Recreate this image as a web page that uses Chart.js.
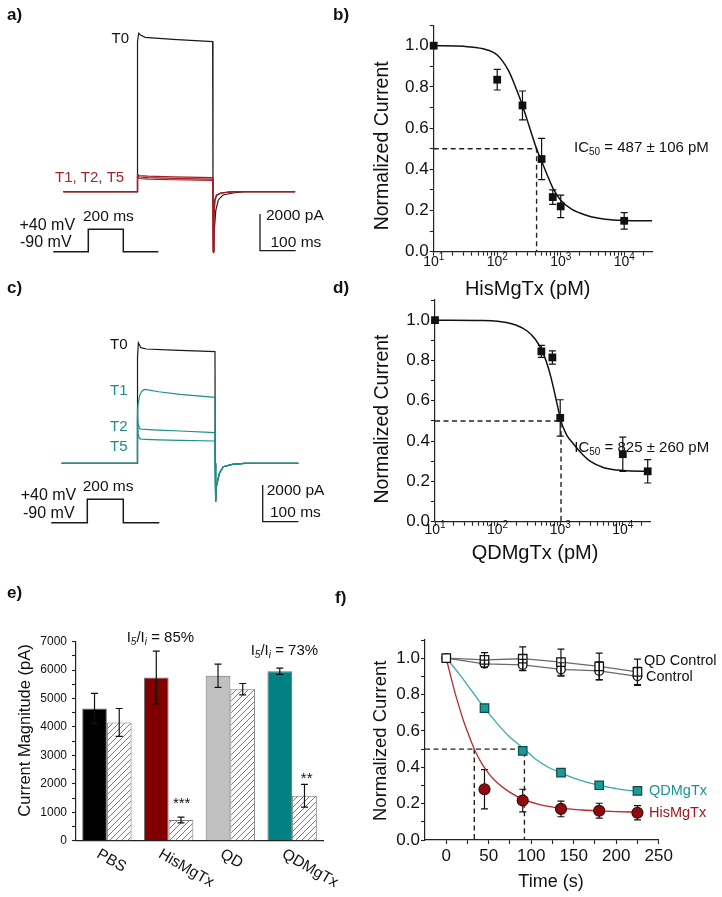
<!DOCTYPE html>
<html>
<head>
<meta charset="utf-8">
<title>MgTx block of Kv1.3 currents</title>
<script src="https://cdn.jsdelivr.net/npm/chart.js@4.4.1/dist/chart.umd.min.js"></script>
<style>
  html, body { margin:0; padding:0; background:#fff; }
  #fig { position:relative; width:722px; height:897px; overflow:hidden; background:#fff; }
  #fig canvas { position:absolute; }
  .pl { position:absolute; font:bold 17px "Liberation Sans", Arial, sans-serif; color:#111; line-height:17px; }
</style>
</head>
<body>
<div id="fig">
  <canvas id="pa" width="361" height="300" style="left:0px;top:0px;width:361px;height:300px"></canvas>
  <canvas id="pb" width="361" height="300" style="left:361px;top:0px;width:361px;height:300px"></canvas>
  <canvas id="pc" width="361" height="300" style="left:0px;top:300px;width:361px;height:300px"></canvas>
  <canvas id="pd" width="361" height="310" style="left:361px;top:280px;width:361px;height:310px"></canvas>
  <canvas id="pe" width="361" height="307" style="left:0px;top:590px;width:361px;height:307px"></canvas>
  <canvas id="pf" width="361" height="307" style="left:361px;top:590px;width:361px;height:307px"></canvas>
  <div class="pl" style="left:7px;top:6px">a)</div>
  <div class="pl" style="left:333px;top:6px">b)</div>
  <div class="pl" style="left:7px;top:279px">c)</div>
  <div class="pl" style="left:333px;top:279px">d)</div>
  <div class="pl" style="left:7px;top:584px">e)</div>
  <div class="pl" style="left:335px;top:589px">f)</div>
</div>
<script>
// ===================== DATA =====================
// Panel a: currents (time ms from pulse onset, current pA), HisMgTx
const aTimeT0 = [-207, 0, 0.6, 4, 10, 22, 100, 211, 212, 213.5, 216, 220, 227, 240, 268, 300, 442];
const aCurT0  = [0, 0, 8200, 8630, 8520, 8415, 8300, 8175, 0, -3350, -2000, -1000, -450, -180, -70, 0, 0];
const aTimeTx = [-207, 0, 0.6, 5, 30, 100, 211, 212, 212.8, 214.5, 217, 222, 235, 270, 442];
const aCurT1  = [0, 0, 950, 880, 850, 810, 770, 0, -3300, -1500, -500, -200, -70, 0, 0];
const aCurT2  = [0, 0, 870, 800, 770, 730, 690, 0, -3250, -1450, -480, -190, -70, 0, 0];
const aCurT5  = [0, 0, 790, 720, 690, 650, 620, 0, -3200, -1400, -460, -180, -60, 0, 0];
// Panel c: currents, QDMgTx
const cTimeT0 = [-212, 0, 0.6, 3, 10, 25, 100, 217.6, 218.2, 219.5, 222, 230, 241, 266, 300, 451];
const cCurT0  = [0, 0, 5800, 6573, 6300, 6229, 6170, 6082, 0, -2093, -1200, -545, -185, -55, 0, 0];
const cTimeTx = [-212, 0, 0.5, 2, 6, 11, 16, 22, 60, 120, 217.6, 218.2, 219.5, 222, 230, 241, 266, 300, 451];
const cCurT1  = [0, 0, 2600, 3200, 3650, 3880, 3990, 4030, 3900, 3760, 3597, 0, -2093, -1200, -545, -185, -55, 0, 0];
const cCurT2  = [0, 0, 3000, 2200, 1900, 1860, 1855, 1850, 1810, 1760, 1668, 0, -2090, -1200, -545, -185, -55, 0, 0];
const cCurT5  = [0, 0, 2500, 1600, 1350, 1315, 1310, 1305, 1280, 1250, 1215, 0, -2085, -1200, -545, -185, -55, 0, 0];
// Voltage protocol (ms, mV) and scale bars
const protoTime = [-200, 0, 0, 200, 200, 400];
const protoVolt = [-90, -90, 40, 40, -90, -90];
const scaleBarPA = 2000, scaleBarMS = 100;

// Panel b: HisMgTx dose response
const bConc = [10, 100, 250, 500, 750, 1000, 10000];
const bCurr = [1.0, 0.835, 0.71, 0.45, 0.265, 0.22, 0.15];
const bErr  = [0, 0.05, 0.07, 0.1, 0.035, 0.055, 0.04];
const bFitConc = [10, 30, 60, 100, 150, 200, 250, 300, 350, 417, 500, 600, 750, 1000, 1500, 2000, 3000, 5000, 10000, 27500];
const bFitCurr = [1.0, 0.997, 0.985, 0.955, 0.88, 0.79, 0.71, 0.635, 0.57, 0.50, 0.44, 0.38, 0.31, 0.25, 0.205, 0.188, 0.17, 0.158, 0.152, 0.15];
const bHalf = 417;
// Panel d: QDMgTx dose response
const dConc = [10, 500, 750, 1000, 10000, 25000];
const dCurr = [1.0, 0.845, 0.815, 0.515, 0.335, 0.25];
const dErr  = [0, 0.03, 0.033, 0.09, 0.085, 0.058];
const dFitConc = [10, 50, 100, 200, 300, 400, 500, 600, 700, 800, 900, 1000, 1100, 1300, 1660, 2000, 3000, 5000, 10000, 27500];
const dFitCurr = [1.0, 0.998, 0.995, 0.975, 0.945, 0.905, 0.855, 0.795, 0.725, 0.65, 0.578, 0.515, 0.472, 0.425, 0.383, 0.352, 0.30, 0.268, 0.254, 0.25];
const dHalf = 1030;
const logTickLabels = [1, 2, 3, 4];

// Panel e: current magnitude
const eGroups = ['PBS', 'HisMgTx', 'QD', 'QDMgTx'];
const eInitial = [4650, 5740, 5800, 5960];
const eInitialErr = [530, 930, 410, 110];
const eFinal = [4160, 730, 5330, 1580];
const eFinalErr = [490, 100, 200, 400];
const eRatios = ['85%', '73%'];
const eSig = ['***', '**'];

// Panel f: time course
const fTime = [0, 45, 90, 135, 180, 225];
const fControl = [1.0, 0.969, 0.963, 0.938, 0.93, 0.90];
const fControlErr = [0, 0.02, 0.03, 0.037, 0.05, 0.05];
const fQDControl = [1.0, 0.991, 0.997, 0.978, 0.955, 0.925];
const fQDControlErr = [0, 0.04, 0.065, 0.072, 0.073, 0.07];
const fToxTime = [45, 90, 135, 180, 225];
const fQDMgTx = [0.725, 0.49, 0.371, 0.301, 0.27];
const fQDMgTxErr = [0.012, 0.015, 0.014, 0.012, 0.012];
const fHisMgTx = [0.279, 0.217, 0.171, 0.161, 0.15];
const fHisMgTxErr = [0.108, 0.062, 0.043, 0.041, 0.039];
const fFitHisTime = [0, 5, 10, 15, 20, 25, 30, 33, 40, 50, 60, 75, 90, 110, 135, 160, 180, 200, 225];
const fFitHis = [1.0, 0.905, 0.815, 0.735, 0.66, 0.595, 0.535, 0.50, 0.435, 0.365, 0.315, 0.262, 0.225, 0.195, 0.175, 0.165, 0.16, 0.156, 0.153];
const fFitQDTime = [0, 15, 30, 45, 60, 75, 92, 105, 120, 135, 150, 165, 180, 200, 225];
const fFitQD = [1.0, 0.915, 0.82, 0.725, 0.64, 0.565, 0.50, 0.445, 0.40, 0.37, 0.34, 0.318, 0.30, 0.283, 0.266];
const fHalf = [33, 92];

// ===================== STYLE / HELPERS =====================
const FONT = '"Liberation Sans", Arial, Helvetica, sans-serif';
Chart.defaults.font.family = FONT;
Chart.defaults.color = '#111';
const RED = '#a3252a', TEAL = '#1b8c8a', INK = '#111';

const pt = (xs, ys) => xs.map((x, i) => ({x: x, y: ys[i]}));
function lin(v1, p1, v2, p2, len) { const k = (v2 - v1) / (p2 - p1); return {min: v1 - p1 * k, max: v1 + (len - p1) * k}; }
function fontStr(s, st) { return (st || '') + ' ' + s + 'px ' + FONT; }
function drawRich(ctx, it) {
  ctx.save();
  ctx.translate(it.x, it.y);
  if (it.rot) ctx.rotate(it.rot * Math.PI / 180);
  ctx.fillStyle = it.color || INK;
  ctx.textBaseline = 'middle';
  ctx.textAlign = 'left';
  const parts = it.parts || [{t: it.t, s: it.s || 15, st: it.st}];
  let w = 0;
  parts.forEach(p => { ctx.font = fontStr(p.s, p.st); w += ctx.measureText(p.t).width; });
  let x = it.align === 'center' ? -w / 2 : (it.align === 'right' ? -w : 0);
  parts.forEach(p => { ctx.font = fontStr(p.s, p.st); ctx.fillText(p.t, x, p.dy || 0); x += ctx.measureText(p.t).width; });
  ctx.restore();
}
function errorBars(chart, top) {
  const ctx = chart.ctx;
  chart.data.datasets.forEach((ds, di) => {
    if (!ds.errors || (!!ds.errTop) !== top) return;
    const meta = chart.getDatasetMeta(di);
    const ys = chart.scales[meta.yAxisID];
    ctx.save();
    ctx.strokeStyle = ds.errColor || INK;
    ctx.lineWidth = ds.errWidth || 1.2;
    meta.data.forEach((el, i) => {
      const e = ds.errors[i]; if (!e) return;
      const raw = ds.data[i]; const v = (typeof raw === 'object') ? raw.y : raw;
      const x = el.x, y1 = ys.getPixelForValue(v + e), y2 = ys.getPixelForValue(v - e), c = ds.errCap || 3.5;
      ctx.beginPath();
      ctx.moveTo(x, y1); ctx.lineTo(x, y2);
      ctx.moveTo(x - c, y1); ctx.lineTo(x + c, y1);
      ctx.moveTo(x - c, y2); ctx.lineTo(x + c, y2);
      ctx.stroke();
    });
    ctx.restore();
  });
}
const DECO = {};
Chart.register({
  id: 'deco',
  beforeDatasetsDraw(chart) { errorBars(chart, false); },
  afterDatasetsDraw(chart) { errorBars(chart, true); },
  afterDraw(chart) {
    const spec = DECO[chart.canvas.id]; if (!spec) return;
    const ctx = chart.ctx;
    if (spec.logLabels) {
      const xs = chart.scales.x;
      logTickLabels.forEach(n => {
        drawRich(ctx, {x: xs.getPixelForValue(Math.pow(10, n)), y: spec.logLabels.y, align: 'center',
          parts: [{t: '10', s: 14}, {t: String(n), s: 10, dy: -5}]});
      });
    }
    if (spec.catLabels) {
      const xs = chart.scales.x;
      eGroups.forEach((g, i) => drawRich(ctx, {t: g, x: xs.getPixelForValue(i) - 9, y: spec.catLabels.y, s: 15.5, rot: 30}));
    }
    (spec.texts || []).forEach(t => drawRich(ctx, t));
  }
});

function hidden(r) { return {type: 'linear', display: false, min: r.min, max: r.max}; }
function baseOpts(L, scales) {
  return {
    responsive: false, animation: false, events: [],
    layout: {autoPadding: false, padding: {left: 0, top: L.top, right: L.W - L.right, bottom: 0}},
    plugins: {legend: {display: false}, tooltip: {enabled: false}},
    scales: scales
  };
}
function axisCommon(size, pad) {
  return {
    grid: {drawOnChartArea: false, drawTicks: true, tickLength: 4, tickWidth: 1.1, tickColor: '#222'},
    border: {display: true, color: '#222', width: 1.2},
    ticks: {autoSkip: false, maxRotation: 0, padding: pad, font: {size: size}, color: INK}
  };
}
function yAxis(L, min, max, vals, fmt, size, pad) {
  const a = axisCommon(size, pad);
  a.ticks.callback = fmt;
  return Object.assign(a, {type: 'linear', position: 'left', min: min, max: max,
    afterFit: s => { s.width = L.left; },
    afterBuildTicks: s => { s.ticks = vals.map(v => ({value: v})); }});
}
function range(a, b, step) { const out = []; for (let v = a; v <= b + 1e-9; v += step) out.push(Math.round(v * 1000) / 1000); return out; }
function logVals(minV, maxV) { const out = []; for (let e = 1; e < 6; e++) for (let m = 1; m < 10; m++) { const v = m * Math.pow(10, e); if (v >= minV && v <= maxV) out.push(v); } return out; }
const fmt01 = v => (Math.round(v * 10) % 2 === 0 && v <= 1.0001) ? v.toFixed(1) : '';

// ===================== PANELS a & c: traces =====================
function tracePanel(id, H, px, T0t, T0i, Txt, Txi, txColor, sbPx) {
  const X = lin(0, px.t0, scaleBarMS, px.t0 + px.msPx * scaleBarMS, 361);
  const Y = lin(0, H - px.base, scaleBarPA, H - px.base + px.paPx * scaleBarPA, H);
  const PX = lin(0, px.pOn, 200, px.pOff, 361);
  const PY = lin(-90, H - px.pLow, 40, H - px.pHigh, H);
  const sbT = (sbPx.x - px.t0) / px.msPx, sbI = (px.base - sbPx.y) / px.paPx;
  const line = (data, color, w, order, xa, ya) => ({data: data, showLine: true, pointRadius: 0, borderColor: color,
    borderWidth: w, tension: 0, order: order, xAxisID: xa || 'x', yAxisID: ya || 'y'});
  const ds = [line(pt(T0t, T0i), '#1a1a1a', 1.2, 9)];
  Txi.forEach((arr, k) => ds.push(line(pt(Txt, arr), txColor, 1.2, 5 - k)));
  ds.push(line(pt(protoTime, protoVolt), '#1a1a1a', 1.5, 0, 'xp', 'yp'));
  ds.push(line([{x: sbT, y: sbI + scaleBarPA}, {x: sbT, y: sbI}, {x: sbT + scaleBarMS, y: sbI}], '#1a1a1a', 1.3, 0));
  new Chart(document.getElementById(id), {
    type: 'scatter', data: {datasets: ds},
    options: baseOpts({top: 0, right: 361, W: 361}, {x: hidden(X), y: hidden(Y), xp: hidden(PX), yp: hidden(PY)})
  });
}
DECO.pa = {texts: [
  {t: 'T0', x: 111.5, y: 39, s: 15},
  {t: 'T1, T2, T5', x: 55, y: 178, s: 15, color: RED},
  {t: '+40 mV', x: 19.5, y: 226, s: 16},
  {t: '-90 mV', x: 20, y: 243, s: 16},
  {t: '200 ms', x: 83, y: 217, s: 15.5},
  {t: '2000 pA', x: 266, y: 216, s: 15.5},
  {t: '100 ms', x: 270.5, y: 242.5, s: 15.5}
]};
tracePanel('pa', 300, {t0: 137.3, msPx: 0.357, base: 191.7, paPx: 36.7 / 2000, pOn: 88.3, pOff: 123.3, pLow: 251.7, pHigh: 229.3},
  aTimeT0, aCurT0, aTimeTx, [aCurT1, aCurT2, aCurT5], '#a31f24', {x: 260, y: 250.7});

DECO.pc = {texts: [
  {t: 'T0', x: 110, y: 45, s: 15},
  {t: 'T1', x: 110, y: 91.3, s: 15, color: TEAL},
  {t: 'T2', x: 110, y: 127, s: 15, color: TEAL},
  {t: 'T5', x: 110, y: 147, s: 15, color: TEAL},
  {t: '+40 mV', x: 20.7, y: 196, s: 16},
  {t: '-90 mV', x: 23, y: 213.3, s: 16},
  {t: '200 ms', x: 82.7, y: 187, s: 15.5},
  {t: '2000 pA', x: 266.7, y: 190.7, s: 15.5},
  {t: '100 ms', x: 270, y: 212.7, s: 15.5}
]};
tracePanel('pc', 300, {t0: 137.3, msPx: 0.357, base: 163.3, paPx: 36.7 / 2000, pOn: 87.3, pOff: 123.3, pLow: 222.7, pHigh: 199.3},
  cTimeT0, cCurT0, cTimeTx, [cCurT1, cCurT2, cCurT5], '#1d8f8c', {x: 262.7, y: 221.7});

// ===================== PANELS b & d: dose response =====================
function dosePanel(id, L, conc, curr, err, fitX, fitY, half) {
  const xa = axisCommon(14, 2);
  xa.ticks.callback = () => '';
  Object.assign(xa, {type: 'logarithmic', position: 'bottom', min: 10, max: 27500,
    afterFit: s => { s.height = L.H - L.bottom; },
    afterBuildTicks: s => { s.ticks = logVals(10, 27500).map(v => ({value: v})); }});
  new Chart(document.getElementById(id), {
    type: 'scatter',
    data: {datasets: [
      {data: pt(conc, curr), errors: err, errCap: 3.5, pointStyle: 'rect', pointRadius: 5.5, pointBackgroundColor: '#111',
        pointBorderColor: '#111', pointBorderWidth: 0, showLine: false, clip: false, order: 0},
      {data: pt(fitX, fitY), showLine: true, pointRadius: 0, borderColor: '#111', borderWidth: 1.5,
        cubicInterpolationMode: 'monotone', order: 2},
      {data: [{x: 10, y: 0.5}, {x: half, y: 0.5}, {x: half, y: 0}], showLine: true, pointRadius: 0,
        borderColor: '#222', borderWidth: 1.4, borderDash: [5, 3.5], order: 3}
    ]},
    options: baseOpts(L, {x: xa, y: yAxis(L, 0, 1.1, range(0, 1.1, 0.1), fmt01, 17, 1)})
  });
}
DECO.pb = {logLabels: {y: 262}, texts: [
  {t: 'Normalized Current', x: 21.7, y: 145.8, s: 19.5, rot: -90, align: 'center'},
  {t: 'HisMgTx (pM)', x: 166.7, y: 289, s: 20, align: 'center'},
  {x: 213, y: 148, parts: [{t: 'IC', s: 15}, {t: '50', s: 10, dy: 4}, {t: ' = 487 \u00b1 106 pM', s: 15}]}
]};
dosePanel('pb', {left: 72.7, right: 291.1, top: 25.1, bottom: 251.7, W: 361, H: 300}, bConc, bCurr, bErr, bFitConc, bFitCurr, bHalf);

// panel d canvas starts at page y = 280
DECO.pd = {logLabels: {y: 250}, texts: [
  {t: 'Normalized Current', x: 21.7, y: 139, s: 19.5, rot: -90, align: 'center'},
  {t: 'QDMgTx (pM)', x: 174, y: 273.3, s: 20, align: 'center'},
  {x: 213.3, y: 168.3, parts: [{t: 'IC', s: 15}, {t: '50', s: 10, dy: 4}, {t: ' = 825 \u00b1 260 pM', s: 15}]}
]};
dosePanel('pd', {left: 74, right: 289.3, top: 20, bottom: 241.7, W: 361, H: 310}, dConc, dCurr, dErr, dFitConc, dFitCurr, dHalf);

// ===================== PANEL e: bars =====================
function hatch() {
  const c = document.createElement('canvas'); c.width = 6; c.height = 6;
  const g = c.getContext('2d');
  g.fillStyle = '#fff'; g.fillRect(0, 0, 6, 6);
  g.strokeStyle = '#7a7a7a'; g.lineWidth = 1;
  g.beginPath(); g.moveTo(0, 6); g.lineTo(6, 0); g.moveTo(-1, 1); g.lineTo(1, -1); g.moveTo(5, 7); g.lineTo(7, 5); g.stroke();
  return g.createPattern(c, 'repeat');
}
(function () {
  const L = {left: 76, right: 323, top: 51.7, bottom: 250.7, W: 361, H: 307};
  const xa = {type: 'category', position: 'bottom', offset: true,
    afterFit: s => { s.height = L.H - L.bottom; },
    ticks: {display: false}, grid: {display: false, drawOnChartArea: false},
    border: {display: true, color: '#222', width: 1.2}};
  const ya = yAxis(L, 0, 7000, range(0, 7000, 500), v => (v % 1000 === 0 ? String(v) : ''), 12, 5);
  DECO.pe = {catLabels: {y: 263}, texts: [
    {t: 'Current Magnitude (pA)', x: 25, y: 140.5, s: 16.5, rot: -90, align: 'center'},
    {x: 126.7, y: 48, parts: [{t: 'I', s: 15}, {t: '5', s: 10, st: 'italic', dy: 4}, {t: '/I', s: 15}, {t: 'i', s: 10, st: 'italic', dy: 4}, {t: ' = ' + eRatios[0], s: 15}]},
    {x: 250.7, y: 61, parts: [{t: 'I', s: 15}, {t: '5', s: 10, st: 'italic', dy: 4}, {t: '/I', s: 15}, {t: 'i', s: 10, st: 'italic', dy: 4}, {t: ' = ' + eRatios[1], s: 15}]},
    {t: eSig[0], x: 181.7, y: 214, s: 15, align: 'center'},
    {t: eSig[1], x: 306.7, y: 189, s: 15, align: 'center'}
  ]};
  new Chart(document.getElementById('pe'), {
    type: 'bar',
    data: {labels: eGroups, datasets: [
      {data: eInitial, backgroundColor: ['#000000', '#800000', '#c0c0c0', '#008080'], borderColor: '#6d6d6d', borderWidth: 1,
        errors: eInitialErr, errTop: true, errCap: 3.5, categoryPercentage: 0.8, barPercentage: 1.0},
      {data: eFinal, backgroundColor: hatch(), borderColor: '#7a7a7a', borderWidth: 1,
        errors: eFinalErr, errTop: true, errCap: 3.5, categoryPercentage: 0.8, barPercentage: 1.0}
    ]},
    options: baseOpts(L, {x: xa, y: ya})
  });
})();

// ===================== PANEL f: time course =====================
(function () {
  const L = {left: 64, right: 297.7, top: 50, bottom: 250, W: 361, H: 307};
  const xa = axisCommon(17, 2.5);
  xa.ticks.callback = v => (v % 50 === 0 ? String(v) : '');
  Object.assign(xa, {type: 'linear', position: 'bottom', min: -25, max: 250,
    afterFit: s => { s.height = L.H - L.bottom; },
    afterBuildTicks: s => { s.ticks = range(0, 250, 25).map(v => ({value: v})); }});
  const ya = yAxis(L, 0, 1.1, range(0, 1.1, 0.1), fmt01, 17, 1);
  const dash = d => ({data: d, showLine: true, pointRadius: 0, borderColor: '#222', borderWidth: 1.4, borderDash: [5, 3.5], order: 8});
  DECO.pf = {texts: [
    {t: 'Normalized Current', x: 20, y: 150.8, s: 18.5, rot: -90, align: 'center'},
    {t: 'Time (s)', x: 190, y: 292, s: 18, align: 'center'},
    {t: 'QD Control', x: 283, y: 70.7, s: 14.5},
    {t: 'Control', x: 285, y: 87.3, s: 14.5},
    {t: 'QDMgTx', x: 288, y: 200.7, s: 14.5, color: '#1a9490'},
    {t: 'HisMgTx', x: 288, y: 222.7, s: 14.5, color: '#a0171c'}
  ]};
  new Chart(document.getElementById('pf'), {
    type: 'scatter',
    data: {datasets: [
      {data: pt(fFitHisTime, fFitHis), showLine: true, pointRadius: 0, borderColor: '#b8282e', borderWidth: 1.3, cubicInterpolationMode: 'monotone', order: 7},
      {data: pt(fFitQDTime, fFitQD), showLine: true, pointRadius: 0, borderColor: '#3aaca6', borderWidth: 1.3, cubicInterpolationMode: 'monotone', order: 7},
      dash([{x: -25, y: 0.5}, {x: fHalf[1], y: 0.5}, {x: fHalf[1], y: 0}]),
      dash([{x: fHalf[0], y: 0.5}, {x: fHalf[0], y: 0}]),
      {data: pt(fToxTime, fQDMgTx), showLine: false, pointStyle: 'rect', pointRadius: 6, pointBackgroundColor: '#1c9a95',
        pointBorderColor: '#0d4a47', pointBorderWidth: 1.2, errors: fQDMgTxErr, errCap: 3.5, clip: false, order: 3},
      {data: pt(fToxTime, fHisMgTx), showLine: false, pointStyle: 'circle', pointRadius: 5.5, pointBackgroundColor: '#8e0c10',
        pointBorderColor: '#4a0406', pointBorderWidth: 1.2, errors: fHisMgTxErr, errCap: 3.5, clip: false, order: 3},
      {data: pt(fTime, fControl), showLine: true, borderColor: '#6a6a6a', borderWidth: 1.3, tension: 0, pointStyle: 'circle', pointRadius: 4.3,
        pointBackgroundColor: '#fff', pointBorderColor: '#111', pointBorderWidth: 1.3, errors: fControlErr, errTop: true, errCap: 3.5, clip: false, order: 1},
      {data: pt(fTime, fQDControl), showLine: true, borderColor: '#6a6a6a', borderWidth: 1.3, tension: 0, pointStyle: 'rect', pointRadius: 6,
        pointBackgroundColor: '#fff', pointBorderColor: '#111', pointBorderWidth: 1.3, errors: fQDControlErr, errTop: true, errCap: 3.5, clip: false, order: 0}
    ]},
    options: baseOpts(L, {x: xa, y: ya})
  });
})();
</script>
</body>
</html>
